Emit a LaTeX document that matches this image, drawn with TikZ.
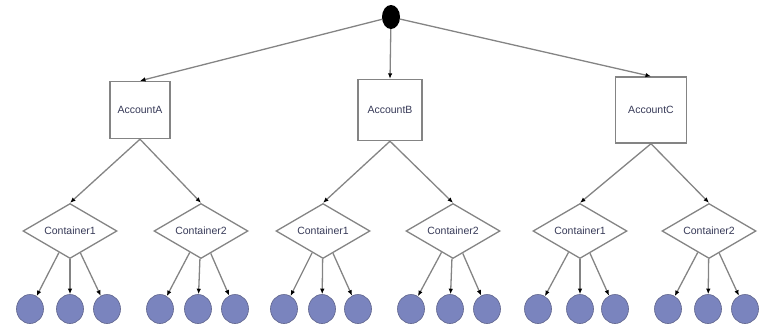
\documentclass[tikz,border=0pt]{standalone}
\usepackage{fontspec}
\setmainfont{Liberation Sans}
\usetikzlibrary{arrows.meta,shapes.geometric}

\definecolor{edgegray}{RGB}{132,132,132}
\definecolor{labelink}{RGB}{55,58,88}
\definecolor{leaffill}{RGB}{122,132,190}
\definecolor{leafline}{RGB}{95,100,140}

\tikzset{
  link/.style={draw=edgegray, line width=1.3pt,
    -{Latex[length=5.5pt,width=4.5pt,color=black]}},
  rootdot/.style={ellipse, fill=black, minimum width=18pt, minimum height=24pt, inner sep=0pt},
  account/.style={rectangle, draw=edgegray, line width=1.4pt, fill=white,
    text=labelink, font=\fontsize{10.5}{12}\selectfont, inner sep=0pt},
  container/.style={diamond, draw=edgegray, line width=1.3pt, fill=white,
    text=labelink, font=\fontsize{10.5}{12}\selectfont, inner sep=0pt,
    shape aspect=1.7, minimum width=94pt, minimum height=55pt},
  leaf/.style={ellipse, draw=leafline, line width=0.6pt, fill=leaffill,
    minimum width=27pt, minimum height=29pt, inner sep=0pt}
}

\begin{document}
\begin{tikzpicture}[x=1pt, y=-1pt]
  \useasboundingbox (0,0) rectangle (760,335);

  % root
  \node[rootdot] (root) at (391,17) {};

  % accounts
  \node[account, minimum width=60pt, minimum height=57pt] (accA) at (140,110) {AccountA};
  \node[account, minimum width=64pt, minimum height=61pt] (accB) at (390,110) {AccountB};
  \node[account, minimum width=71pt, minimum height=66pt] (accC) at (651,110) {AccountC};

  \draw[link] (root) -- (accA.north);
  \draw[link] (root) -- (accB.north);
  \draw[link] (root) -- (accC.north);

  % containers
  \node[container] (a1) at (70,231)  {Container1};
  \node[container] (a2) at (201,231) {Container2};
  \node[container] (b1) at (323,231) {Container1};
  \node[container] (b2) at (453,231) {Container2};
  \node[container] (c1) at (580,231) {Container1};
  \node[container] (c2) at (709,231) {Container2};

  \draw[link] (accA.south) -- (a1.north);
  \draw[link] (accA.south) -- (a2.north);
  \draw[link] (accB.south) -- (b1.north);
  \draw[link] (accB.south) -- (b2.north);
  \draw[link] (accC.south) -- (c1.north);
  \draw[link] (accC.south) -- (c2.north);

  % leaves under each container
  \foreach \c/\xa/\xb/\xc in {a1/30/70/107, a2/160/198/235, b1/284/322/358,
                              b2/411/450/487, c1/538/580/615, c2/668/708/745} {
    \node[leaf] (\c-1) at (\xa,309) {};
    \node[leaf] (\c-2) at (\xb,309) {};
    \node[leaf] (\c-3) at (\xc,309) {};
    \draw[link] (\c) -- (\c-1);
    \draw[link] (\c) -- (\c-2);
    \draw[link] (\c) -- (\c-3);
  }
\end{tikzpicture}
\end{document}
